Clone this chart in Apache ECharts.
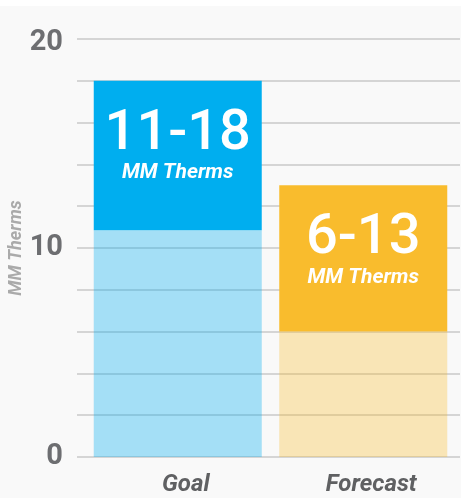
<!DOCTYPE html>
<html><head><meta charset="utf-8">
<script src="https://cdn.jsdelivr.net/npm/echarts@6/dist/echarts.min.js"></script>
<style>
html,body{margin:0;padding:0;background:#ffffff;}
#c{position:absolute;left:0;top:6px;width:461px;height:492px;background:#f9f9f9;}
</style></head><body>
<div id="c"></div>
<script>
const categories = ['Goal', 'Forecast'];
const baseValues = [10.85, 6.0];
const rangeValues = [7.15, 7.0];
const rangeLabels = ['11-18', '6-13'];
const unitLabel = 'MM Therms';
const yTicks = [0, 10, 20];

const chart = echarts.init(document.getElementById('c'), null, {renderer: 'canvas'});
const topPx = 33, bottomPx = 41;
const yLabelStyle = {color: '#6d6e71', fontSize: 29, fontWeight: 'bold', fontFamily: 'Roboto'};
chart.setOption({
  animation: false,
  grid: [
    {left: 77, right: 1, top: topPx, bottom: bottomPx, outerBoundsMode: 'none', containLabel: false},
    {left: 85, right: 5, top: topPx, bottom: bottomPx, outerBoundsMode: 'none', containLabel: false}
  ],
  xAxis: [
    {gridIndex: 0, type: 'value', min: 0, max: 1, show: false},
    {gridIndex: 1, type: 'category', data: categories,
     axisLine: {show: false}, axisTick: {show: false},
     axisLabel: {margin: 16, padding: [0, 0, 0, 16], color: '#5f6062', fontSize: 24, fontWeight: 'bold', fontStyle: 'italic', fontFamily: 'Roboto'}}
  ],
  yAxis: [
    {gridIndex: 0, type: 'value', min: 0, max: 20, interval: 2,
     name: unitLabel, nameLocation: 'middle', nameGap: 52, nameRotate: 90, nameMoveOverlap: false,
     nameTextStyle: {color: '#aaaaaa', fontSize: 18, fontWeight: 'bold', fontStyle: 'italic', fontFamily: 'Roboto'},
     axisLine: {show: false}, axisTick: {show: false},
     splitLine: {lineStyle: {color: '#c8c8c8', width: 1.5}},
     axisLabel: Object.assign({margin: 14,
       formatter: v => yTicks.includes(v) ? (v === 20 ? '{t|' + v + '}' : '{n|' + v + '}') : '',
       rich: {t: Object.assign({padding: [8, 0, 0, 0]}, yLabelStyle), n: Object.assign({}, yLabelStyle)}}, yLabelStyle)},
    {gridIndex: 1, type: 'value', min: 0, max: 20, show: false}
  ],
  series: [
    {type: 'bar', xAxisIndex: 1, yAxisIndex: 1, stack: 's', barWidth: 168,
     data: baseValues.map((v, i) => ({value: v, itemStyle: {color: i === 0 ? 'rgba(0,174,239,0.34)' : 'rgba(249,188,45,0.33)'}}))},
    {type: 'bar', xAxisIndex: 1, yAxisIndex: 1, stack: 's', barWidth: 168,
     data: rangeValues.map((v, i) => ({value: v, itemStyle: {color: i === 0 ? '#00aeef' : '#f9bc2d'}})),
     label: {show: true, position: 'insideTop', distance: 28,
       formatter: p => '{a|' + rangeLabels[p.dataIndex] + '}\n{b|' + unitLabel + '}',
       rich: {
         a: {color: '#ffffff', fontSize: 56, fontFamily: 'Roboto', fontWeight: 500, lineHeight: 52, align: 'center'},
         b: {color: '#ffffff', fontSize: 21, fontFamily: 'Roboto', fontWeight: 'bold', fontStyle: 'italic', lineHeight: 24, align: 'center'}
       }}}
  ]
});
</script></body></html>
